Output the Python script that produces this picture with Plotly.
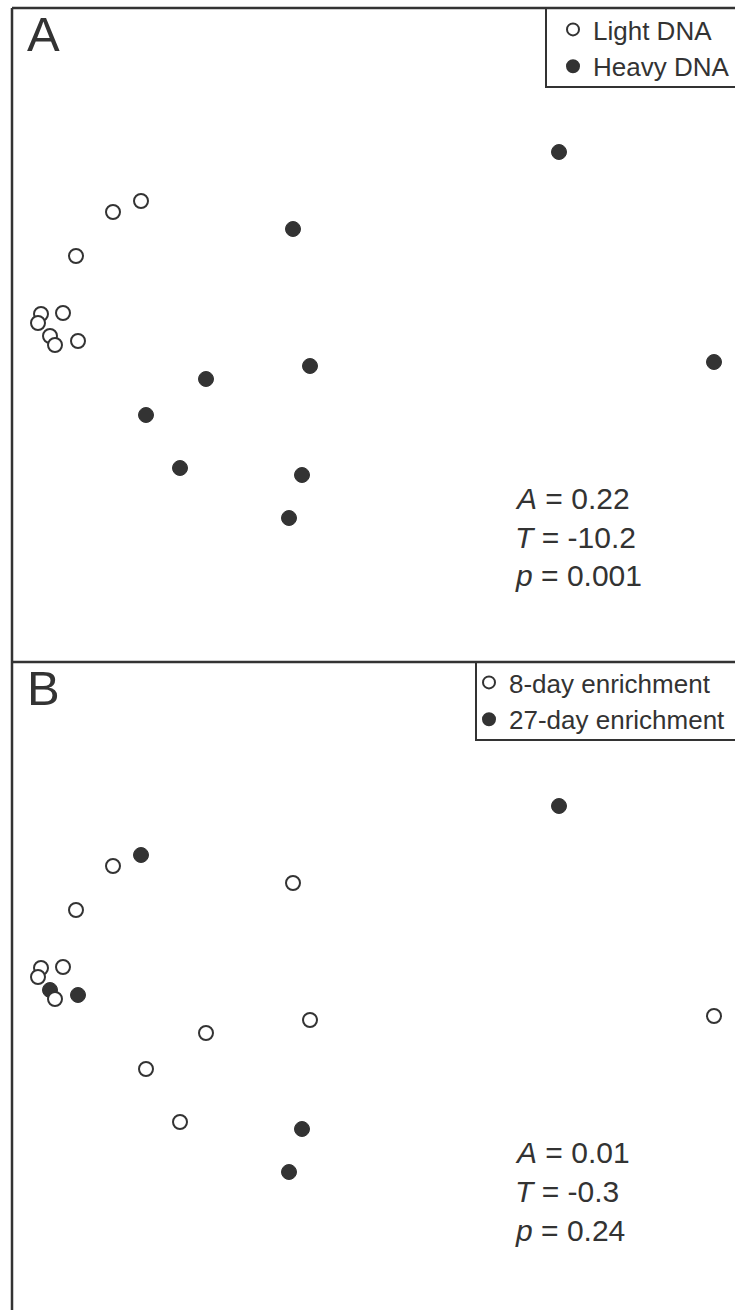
import plotly.graph_objects as go

# NMDS ordination coordinates of the 18 samples (same ordination shown in both panels)
nmds1 = [-1.084, -1.096, -0.996, -1.048, -1.028, -0.936, -0.944, -0.796, -0.684,
         0.988, -0.076, -0.008, 1.608, -0.424, -0.664, -0.528, -0.040, -0.092]
nmds2 = [-0.024, -0.060, -0.020, -0.112, -0.148, -0.132, 0.208, 0.384, 0.428,
         0.624, 0.316, -0.232, -0.216, -0.284, -0.428, -0.640, -0.668, -0.840]
fraction = ["Light"] * 9 + ["Heavy"] * 9
incubation = [8, 8, 8, 27, 8, 27, 8, 8, 27,
              27, 8, 8, 8, 8, 8, 8, 27, 27]

legend_a = ["Light DNA", "Heavy DNA"]
legend_b = ["8-day enrichment", "27-day enrichment"]
stats_a = ["<i>A</i> = 0.22", "<i>T</i> = -10.2", "<i>p</i> = 0.001"]
stats_b = ["<i>A</i> = 0.01", "<i>T</i> = -0.3", "<i>p</i> = 0.24"]
panel_labels = ["A", "B"]

W, H = 735, 1310
INK = "#333333"
FONT = "Liberation Sans, Arial, sans-serif"


def px_x(px):
    return px / W


def px_y(py):
    return 1 - py / H


def pick(cond):
    xs = [x for x, c in zip(nmds1, cond) if c]
    ys = [y for y, c in zip(nmds2, cond) if c]
    return xs, ys


open_marker = dict(symbol="circle", size=14, color="white", line=dict(color=INK, width=2))
fill_marker = dict(symbol="circle", size=15, color=INK, line=dict(color=INK, width=1))

fig = go.Figure()

# Panel A
xs, ys = pick([f == "Heavy" for f in fraction])
fig.add_trace(go.Scatter(x=xs, y=ys, mode="markers", marker=fill_marker, name=legend_a[1],
                         xaxis="x", yaxis="y", legend="legend", legendrank=2))
xs, ys = pick([f == "Light" for f in fraction])
fig.add_trace(go.Scatter(x=xs, y=ys, mode="markers", marker=open_marker, name=legend_a[0],
                         xaxis="x", yaxis="y", legend="legend", legendrank=1))

# Panel B
xs, ys = pick([d == 27 for d in incubation])
fig.add_trace(go.Scatter(x=xs, y=ys, mode="markers", marker=fill_marker, name=legend_b[1],
                         xaxis="x2", yaxis="y2", legend="legend2", legendrank=2))
xs, ys = pick([d == 8 for d in incubation])
fig.add_trace(go.Scatter(x=xs, y=ys, mode="markers", marker=open_marker, name=legend_b[0],
                         xaxis="x2", yaxis="y2", legend="legend2", legendrank=1))

axis_common = dict(showgrid=False, zeroline=False, showticklabels=False, ticks="",
                   showline=False, fixedrange=True)
x_dom = [px_x(12), 1.0]
x_rng = [-1.2, -1.2 + 723 * 0.004]

leg_common = dict(bgcolor="rgba(0,0,0,0)", borderwidth=0, itemsizing="constant",
                  font=dict(family=FONT, size=26, color=INK), traceorder="normal",
                  xanchor="left", yanchor="top", tracegroupgap=0)

fig.update_layout(
    width=W, height=H,
    margin=dict(l=0, r=0, t=0, b=0, autoexpand=False),
    paper_bgcolor="white", plot_bgcolor="white",
    hovermode=False,
    xaxis=dict(domain=x_dom, range=x_rng, anchor="y", **axis_common),
    yaxis=dict(domain=[px_y(662), px_y(8)], range=[1.2 - 654 * 0.004, 1.2], anchor="x", **axis_common),
    xaxis2=dict(domain=x_dom, range=x_rng, anchor="y2", **axis_common),
    yaxis2=dict(domain=[0, px_y(662)], range=[1.2 - 648 * 0.004, 1.2], anchor="x2", **axis_common),
    legend=dict(x=px_x(553), y=px_y(6), **leg_common),
    legend2=dict(x=px_x(469), y=px_y(659), **leg_common),
    showlegend=True,
)

# frame lines and legend boxes
line = dict(color=INK, width=2.5)
shapes = [
    dict(type="rect", xref="paper", yref="paper", x0=px_x(546), x1=1.02, y0=px_y(87), y1=px_y(8),
         line=dict(color=INK, width=2), fillcolor="rgba(0,0,0,0)", layer="above"),
    dict(type="rect", xref="paper", yref="paper", x0=px_x(476), x1=1.02, y0=px_y(740), y1=px_y(662),
         line=dict(color=INK, width=2), fillcolor="rgba(0,0,0,0)", layer="above"),
    dict(type="line", xref="paper", yref="paper", x0=px_x(12), x1=px_x(12), y0=0, y1=px_y(8), line=line),
    dict(type="line", xref="paper", yref="paper", x0=px_x(12), x1=1.0, y0=px_y(8), y1=px_y(8), line=line),
    dict(type="line", xref="paper", yref="paper", x0=px_x(12), x1=1.0, y0=px_y(662), y1=px_y(662), line=line),
]
fig.update_layout(shapes=shapes)

# panel letters
for lab, cy in zip(panel_labels, [34, 34 + 654]):
    fig.add_annotation(text=lab, xref="paper", yref="paper", x=px_x(25), y=px_y(cy),
                       xanchor="left", yanchor="middle", showarrow=False,
                       font=dict(family=FONT, size=49, color=INK))

# statistics text
for lines, base in [(stats_a, 0), (stats_b, 654)]:
    for txt, cy in zip(lines, [498, 537, 576]):
        fig.add_annotation(text=txt, xref="paper", yref="paper", x=px_x(513), y=px_y(cy + base),
                           xanchor="left", yanchor="middle", showarrow=False,
                           font=dict(family=FONT, size=30, color=INK))

fig.write_html("out.html", config={"displayModeBar": False},
               post_script="document.body.style.margin='0';")
